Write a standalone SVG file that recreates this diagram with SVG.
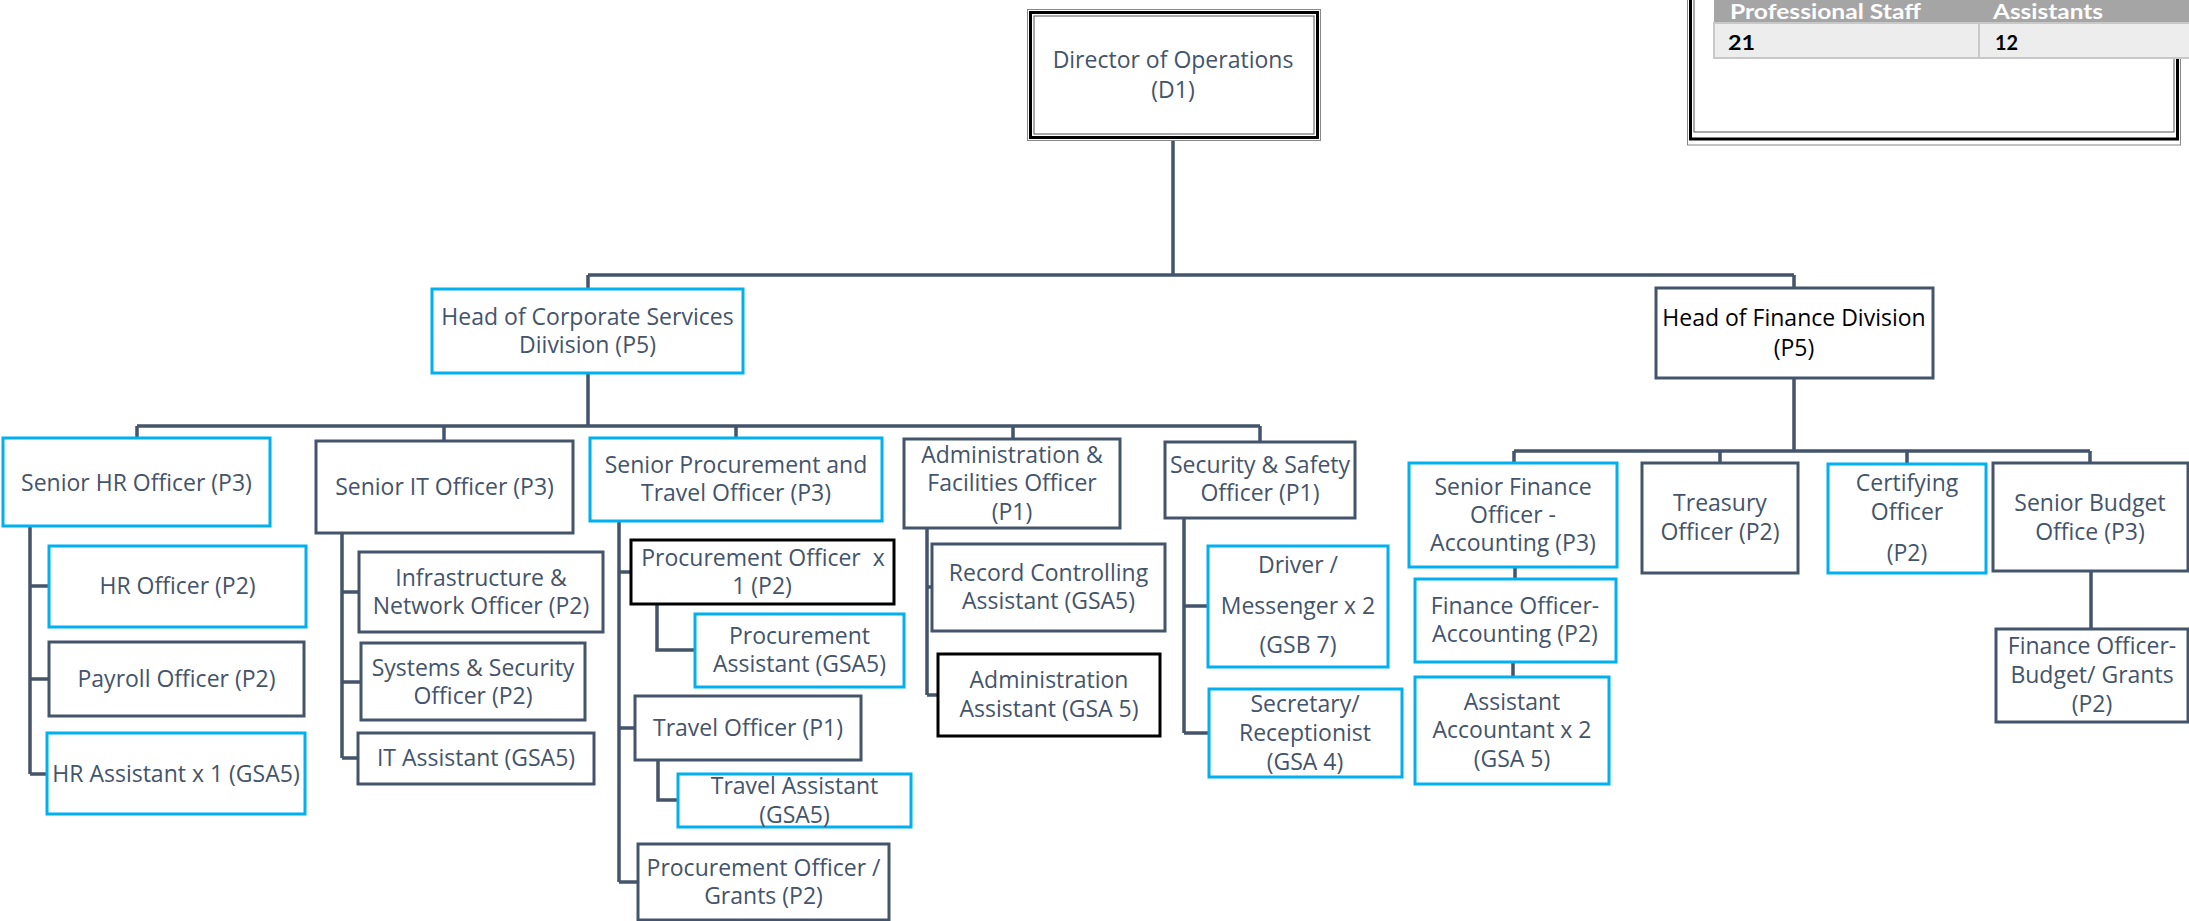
<svg xmlns="http://www.w3.org/2000/svg" width="2189" height="921" viewBox="0 0 2189 921">
<style>
rect.b{fill:#fff;stroke:#00b0f0;stroke-width:3}
rect.d{fill:#fff;stroke:#44546a;stroke-width:3}
rect.k{fill:#fff;stroke:#000;stroke-width:3}
text{font-family:"Open Sans","Noto Sans",sans-serif;font-size:23px;fill:#44546a;text-anchor:middle}
text.blk{fill:#000}
#connectors path{fill:none;stroke:#44546a;stroke-width:3.5}
text.th{font-family:Lato,"Liberation Sans",sans-serif;font-weight:bold;font-size:20px;text-anchor:start;fill:#fff}
text.td{font-family:Lato,"Liberation Sans",sans-serif;font-weight:bold;font-size:21px;text-anchor:start;fill:#000}
</style>
<rect x="0" y="0" width="2189" height="921" fill="#fff"/>

<g id="connectors">
<path d="M1173 140V275M588 275H1794M588 275V289M1794 275V288"/>
<path d="M588 373V426M137 426H1260M137 426V438M444 426V441M736 426V438M1013 426V439M1260 426V442"/>
<path d="M1794 378V451M1514 451H2090M1514 451V463M1720 451V463M1907 451V464M2090 451V463"/>
<path d="M30 526V774M30 586H49M30 679H49M30 774H47"/>
<path d="M342 533V758M342 592H359M342 682H361M342 758H358"/>
<path d="M619 521V882M619 572H631M619 728H635M619 882H638"/>
<path d="M657 604V650H695M658 760V800H678"/>
<path d="M927 528V695M927 587H932M927 695H938"/>
<path d="M1184 518V733M1184 606H1208M1184 733H1209"/>
<path d="M1515 567V579M1513 662V677M2091 571V629"/>
</g>

<g id="summary">
<rect x="1687.5" y="-20" width="493" height="165" fill="#fff" stroke="#888" stroke-width="1"/>
<rect x="1690.5" y="-20" width="487" height="159" fill="none" stroke="#000" stroke-width="3"/>
<rect x="1694" y="-20" width="480" height="152" fill="none" stroke="#555" stroke-width="1"/>
<rect x="1714" y="-5" width="480" height="28" fill="#a5a5a5"/>
<rect x="1714" y="23" width="480" height="35" fill="#ededed" stroke="#c8c8c8" stroke-width="2"/>
<line x1="1979" y1="23" x2="1979" y2="58" stroke="#c8c8c8" stroke-width="2"/>
<text class="th" x="1730" y="19" textLength="191" lengthAdjust="spacingAndGlyphs">Professional Staff</text>
<text class="th" x="1993" y="19" textLength="110" lengthAdjust="spacingAndGlyphs">Assistants</text>
<text class="td" x="1728" y="50" textLength="27" lengthAdjust="spacingAndGlyphs">21</text>
<text class="td" x="1995" y="50" textLength="23" lengthAdjust="spacingAndGlyphs">12</text>
</g>

<g id="director">
<rect x="1027.5" y="9.5" width="293" height="131" fill="#fff" stroke="#888" stroke-width="1"/>
<rect x="1030.5" y="12.5" width="287" height="125" fill="none" stroke="#000" stroke-width="3"/>
<rect x="1034" y="16" width="280" height="118" fill="none" stroke="#555" stroke-width="1"/>
<text x="1173" y="68">Director of Operations</text>
<text x="1173" y="98">(D1)</text>
</g>

<g id="head-corporate">
<rect class="b" x="432" y="289" width="311" height="84"/>
<text x="587.5" y="325">Head of Corporate Services</text>
<text x="587.5" y="353">Diivision (P5)</text>
</g>

<g id="head-finance">
<rect class="d" x="1656" y="288" width="277" height="90"/>
<text class="blk" x="1794" y="326">Head of Finance Division</text>
<text class="blk" x="1794" y="356">(P5)</text>
</g>

<g id="senior-hr">
<rect class="b" x="3" y="438" width="267" height="88"/>
<text x="136.5" y="491">Senior HR Officer (P3)</text>
</g>
<g id="senior-it">
<rect class="d" x="316" y="441" width="257" height="92"/>
<text x="444.5" y="495">Senior IT Officer (P3)</text>
</g>
<g id="senior-procurement">
<rect class="b" x="590" y="438" width="292" height="83"/>
<text x="736" y="473">Senior Procurement and</text>
<text x="736" y="501">Travel Officer (P3)</text>
</g>
<g id="admin-facilities">
<rect class="d" x="904" y="439" width="216" height="89"/>
<text x="1012" y="463">Administration &amp;</text>
<text x="1012" y="491">Facilities Officer</text>
<text x="1012" y="520">(P1)</text>
</g>
<g id="security-safety">
<rect class="d" x="1165" y="442" width="190" height="76"/>
<text x="1260" y="473">Security &amp; Safety</text>
<text x="1260" y="501">Officer (P1)</text>
</g>

<g id="hr-officer">
<rect class="b" x="49" y="546" width="257" height="81"/>
<text x="177.5" y="594">HR Officer (P2)</text>
</g>
<g id="payroll-officer">
<rect class="d" x="49" y="642" width="255" height="74"/>
<text x="176.5" y="687">Payroll Officer (P2)</text>
</g>
<g id="hr-assistant">
<rect class="b" x="47" y="733" width="258" height="81"/>
<text x="176" y="782">HR Assistant x 1 (GSA5)</text>
</g>

<g id="infrastructure-officer">
<rect class="d" x="359" y="552" width="244" height="80"/>
<text x="481" y="586">Infrastructure &amp;</text>
<text x="481" y="614">Network Officer (P2)</text>
</g>
<g id="systems-security-officer">
<rect class="d" x="361" y="643" width="224" height="77"/>
<text x="473" y="676">Systems &amp; Security</text>
<text x="473" y="704">Officer (P2)</text>
</g>
<g id="it-assistant">
<rect class="d" x="358" y="733" width="236" height="51"/>
<text x="476" y="766">IT Assistant (GSA5)</text>
</g>

<g id="procurement-officer">
<rect class="k" x="631" y="540" width="263" height="64"/>
<text x="763" y="566" xml:space="preserve">Procurement Officer  x</text>
<text x="762" y="594">1 (P2)</text>
</g>
<g id="procurement-assistant">
<rect class="b" x="695" y="614" width="209" height="73"/>
<text x="799.5" y="644">Procurement</text>
<text x="799.5" y="672">Assistant (GSA5)</text>
</g>
<g id="travel-officer">
<rect class="d" x="635" y="696" width="226" height="64"/>
<text x="748" y="736">Travel Officer (P1)</text>
</g>
<g id="travel-assistant">
<rect class="b" x="678" y="774" width="233" height="53"/>
<text x="794.5" y="794">Travel Assistant</text>
<text x="794.5" y="823">(GSA5)</text>
</g>
<g id="procurement-grants">
<rect class="d" x="638" y="844" width="251" height="76"/>
<text x="763.5" y="876">Procurement Officer /</text>
<text x="763.5" y="904">Grants (P2)</text>
</g>

<g id="record-controlling">
<rect class="d" x="932" y="544" width="233" height="87"/>
<text x="1048.5" y="581">Record Controlling</text>
<text x="1048.5" y="609">Assistant (GSA5)</text>
</g>
<g id="admin-assistant">
<rect class="k" x="938" y="654" width="222" height="82"/>
<text x="1049" y="688">Administration</text>
<text x="1049" y="717">Assistant (GSA 5)</text>
</g>

<g id="driver-messenger">
<rect class="b" x="1208" y="546" width="180" height="121"/>
<text x="1298" y="573">Driver /</text>
<text x="1298" y="614">Messenger x 2</text>
<text x="1298" y="653">(GSB 7)</text>
</g>
<g id="secretary">
<rect class="b" x="1209" y="689" width="193" height="88"/>
<text x="1305" y="712">Secretary/</text>
<text x="1305" y="741">Receptionist</text>
<text x="1305" y="770">(GSA 4)</text>
</g>

<g id="senior-finance">
<rect class="b" x="1409" y="463" width="208" height="104"/>
<text x="1513" y="495">Senior Finance</text>
<text x="1513" y="523">Officer -</text>
<text x="1513" y="551">Accounting (P3)</text>
</g>
<g id="treasury">
<rect class="d" x="1642" y="463" width="156" height="110"/>
<text x="1720" y="511">Treasury</text>
<text x="1720" y="540">Officer (P2)</text>
</g>
<g id="certifying">
<rect class="b" x="1828" y="464" width="158" height="109"/>
<text x="1907" y="491">Certifying</text>
<text x="1907" y="520">Officer</text>
<text x="1907" y="561">(P2)</text>
</g>
<g id="senior-budget">
<rect class="d" x="1993" y="463" width="195" height="108"/>
<text x="2090" y="511">Senior Budget</text>
<text x="2090" y="540">Office (P3)</text>
</g>
<g id="finance-accounting">
<rect class="b" x="1415" y="579" width="201" height="83"/>
<text x="1515" y="614">Finance Officer-</text>
<text x="1515" y="642">Accounting (P2)</text>
</g>
<g id="assistant-accountant">
<rect class="b" x="1415" y="677" width="194" height="107"/>
<text x="1512" y="710">Assistant</text>
<text x="1512" y="738">Accountant x 2</text>
<text x="1512" y="767">(GSA 5)</text>
</g>
<g id="finance-budget">
<rect class="d" x="1996" y="629" width="192" height="93"/>
<text x="2092" y="654">Finance Officer-</text>
<text x="2092" y="683">Budget/ Grants</text>
<text x="2092" y="712">(P2)</text>
</g>
</svg>
